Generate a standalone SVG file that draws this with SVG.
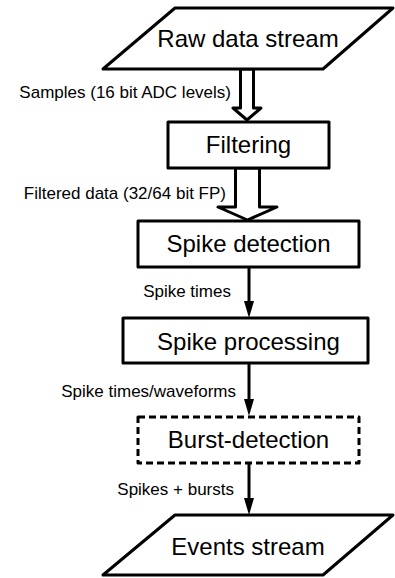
<svg xmlns="http://www.w3.org/2000/svg" width="395" height="578" viewBox="0 0 395 578">
<style>
.shape{fill:#fff;stroke:#000;stroke-width:3;stroke-linejoin:round}
.dash{stroke-dasharray:7 4}
.node{font-family:"Liberation Sans",Arial,sans-serif;font-size:24px;fill:#000;text-anchor:middle}
.lbl{font-family:"Liberation Sans",Arial,sans-serif;font-size:17px;fill:#000;text-anchor:end}
.line{stroke:#000;stroke-width:3;fill:none}
</style>
<defs>
<marker id="ah" markerWidth="10" markerHeight="16" refX="5" refY="16" orient="auto" markerUnits="userSpaceOnUse" viewBox="0 0 10 16">
<path d="M0,0 L10,0 L5,16 Z" fill="#000"/>
</marker>
</defs>
<rect width="395" height="578" fill="#fff"/>
<g id="connectors">
<polygon class="shape" points="240.5,69 253.5,69 253.5,108 261,108 247,120 233,108 240.5,108"/>
<polygon class="shape" points="235.5,168 259.5,168 259.5,207 277,207 247.5,220 218,207 235.5,207"/>
<line class="line" x1="249" y1="267" x2="249" y2="302"/>
<path d="M244,301 L254,301 L249,318 Z" fill="#000"/>
<line class="line" x1="249" y1="363" x2="249" y2="400"/>
<path d="M244,399 L254,399 L249,416 Z" fill="#000"/>
<line class="line" x1="249" y1="463" x2="249" y2="499"/>
<path d="M244,498 L254,498 L249,515 Z" fill="#000"/>
<text class="lbl" x="231" y="98">Samples (16 bit ADC levels)</text>
<text class="lbl" x="226" y="199">Filtered data (32/64 bit FP)</text>
<text class="lbl" x="231" y="297">Spike times</text>
<text class="lbl" x="236" y="397">Spike times/waveforms</text>
<text class="lbl" x="234" y="495">Spikes + bursts</text>
</g>
<g id="raw">
<polygon class="shape" points="175,8 393,8 323,69 103,69"/>
<text class="node" x="248" y="47">Raw data stream</text>
</g>
<g id="filtering">
<rect class="shape" x="168" y="122" width="161" height="46"/>
<text class="node" x="248.5" y="153">Filtering</text>
</g>
<g id="spikedet">
<rect class="shape" x="138" y="221" width="221" height="46"/>
<text class="node" x="248.5" y="252">Spike detection</text>
</g>
<g id="spikeproc">
<rect class="shape" x="123" y="318" width="245" height="45"/>
<text class="node" x="248.5" y="350">Spike processing</text>
</g>
<g id="burst">
<rect class="shape dash" x="138" y="417" width="221" height="46"/>
<text class="node" x="248.5" y="448">Burst-detection</text>
</g>
<g id="events">
<polygon class="shape" points="175,515 393,515 323,575 103,575"/>
<text class="node" x="248" y="555">Events stream</text>
</g>
</svg>
